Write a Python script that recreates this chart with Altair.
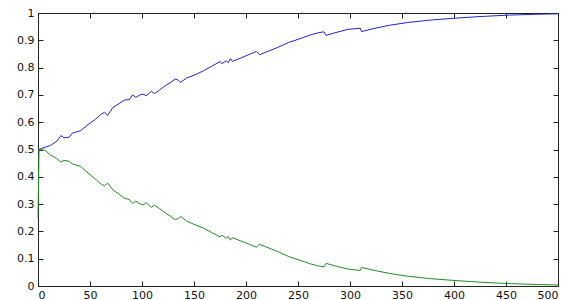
import altair as alt
import pandas as pd

x_vals = [0, 1, 5, 12, 18, 22, 25, 30, 33, 41, 49, 55, 61, 64, 67, 72, 78, 83, 88, 91,
          94, 98, 101, 104, 109, 112, 117, 121, 126, 132, 135, 137, 143, 150, 159, 167,
          175, 177, 181, 183, 185, 187, 195, 203, 210, 213, 222, 230, 241, 252, 262, 270,
          275, 277, 285, 298, 310, 311, 325, 338, 355, 377, 401, 425, 451, 475, 500]

blue_vals = [0.5, 0.5, 0.506, 0.515, 0.53, 0.551, 0.543, 0.545, 0.56, 0.569, 0.594, 0.61,
             0.63, 0.636, 0.625, 0.654, 0.668, 0.681, 0.683, 0.7, 0.691, 0.7, 0.703, 0.697,
             0.713, 0.705, 0.718, 0.73, 0.742, 0.758, 0.754, 0.746, 0.762, 0.772, 0.788,
             0.805, 0.822, 0.815, 0.825, 0.818, 0.833, 0.823, 0.835, 0.848, 0.859, 0.847,
             0.861, 0.873, 0.892, 0.906, 0.92, 0.928, 0.931, 0.918, 0.927, 0.94, 0.944,
             0.932, 0.945, 0.955, 0.965, 0.974, 0.981, 0.987, 0.992, 0.995, 0.997]

green_vals = [0.25, 0.5, 0.503, 0.48, 0.467, 0.454, 0.46, 0.457, 0.447, 0.438, 0.411, 0.392,
              0.372, 0.367, 0.377, 0.352, 0.336, 0.322, 0.316, 0.302, 0.311, 0.301, 0.297,
              0.305, 0.288, 0.296, 0.283, 0.272, 0.259, 0.243, 0.248, 0.255, 0.238, 0.226,
              0.212, 0.196, 0.18, 0.186, 0.175, 0.181, 0.168, 0.177, 0.165, 0.153, 0.142,
              0.153, 0.139, 0.127, 0.108, 0.094, 0.081, 0.073, 0.07, 0.083, 0.074, 0.062,
              0.057, 0.068, 0.056, 0.046, 0.036, 0.027, 0.02, 0.014, 0.009, 0.006, 0.004]

x_ticks = [0, 50, 100, 150, 200, 250, 300, 350, 400, 450, 500]
y_ticks = [0, 0.1, 0.2, 0.3, 0.4, 0.5, 0.6, 0.7, 0.8, 0.9, 1]

rows = []
for name, vals in (("blue", blue_vals), ("green", green_vals)):
    for i, (x, v) in enumerate(zip(x_vals, vals)):
        rows.append({"x": x, "v": v, "series": name, "order": i})
df = pd.DataFrame(rows)

FONT = "DejaVu Sans"
xscale = alt.Scale(domain=[0, 500], nice=False, zero=False)
yscale = alt.Scale(domain=[0, 1], nice=False)
color = alt.Color("series:N", legend=None,
                  scale=alt.Scale(domain=["blue", "green"], range=["#2424c4", "#238a23"]))

common_axis = dict(domain=False, grid=False, tickSize=5, offset=-5, tickColor="#222",
                   labelFont=FONT, labelFontSize=11, labelColor="#111", title=None)

main = alt.Chart(df).mark_line(strokeWidth=1).encode(
    x=alt.X("x:Q", scale=xscale,
            axis=alt.Axis(values=x_ticks, orient="bottom", labelPadding=3, **common_axis)),
    y=alt.Y("v:Q", scale=yscale,
            axis=alt.Axis(values=y_ticks, orient="left", labelPadding=4, format="~g",
                          **common_axis)),
    color=color,
    detail="series:N",
    order="order:Q",
)

ghost = alt.Chart(df).mark_line(strokeWidth=1, opacity=0).encode(
    x=alt.X("x:Q", scale=xscale,
            axis=alt.Axis(values=x_ticks, orient="top", labels=False, **common_axis)),
    y=alt.Y("v:Q", scale=yscale,
            axis=alt.Axis(values=y_ticks, orient="right", labels=False, **common_axis)),
    detail="series:N",
    order="order:Q",
)

chart = alt.layer(main, ghost).resolve_axis(x="independent", y="independent").properties(
    width=520, height=273,
    autosize=alt.AutoSizeParams(type="none"),
    padding={"left": 30, "top": 5, "right": 4, "bottom": 14},
    background="white",
).configure_view(stroke="#222", strokeWidth=1)

chart.save("out.html", embed_options={"renderer": "svg", "actions": False})
